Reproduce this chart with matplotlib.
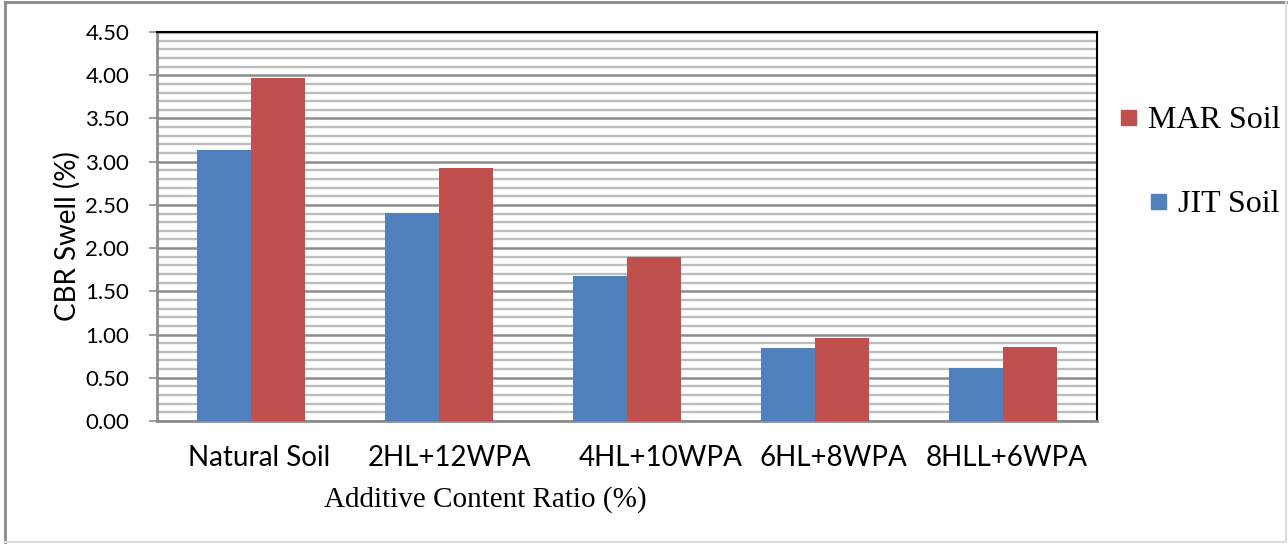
import matplotlib
matplotlib.use('Agg')
import matplotlib.pyplot as plt
import matplotlib.transforms as mtransforms
from matplotlib.patches import Rectangle
from matplotlib.lines import Line2D
from matplotlib.ticker import MultipleLocator, FormatStrFormatter
import numpy as np

# data
categories = ['Natural Soil', '2HL+12WPA', '4HL+10WPA', '6HL+8WPA', '8HLL+6WPA']
jit_soil = [3.13, 2.41, 1.68, 0.84, 0.61]
mar_soil = [3.97, 2.93, 1.90, 0.96, 0.86]

blue = '#4F81BD'
red = '#C0504D'
sans = ['Lato', 'DejaVu Sans']
serif = ['Liberation Serif', 'DejaVu Serif']

fig = plt.figure(figsize=(12.88, 5.44), dpi=100)
ax = fig.add_axes([157/1288, 1-421/544, 940/1288, 389/544])

x = np.arange(len(categories))
w = 0.285
ax.bar(x - w/2, jit_soil, w, color=blue, zorder=3)
ax.bar(x + w/2, mar_soil, w, color=red, zorder=3)

ax.set_xlim(-0.5, len(categories) - 0.5)
ax.set_ylim(0, 4.5)
ax.yaxis.set_major_locator(MultipleLocator(0.5))
ax.yaxis.set_minor_locator(MultipleLocator(0.1))
ax.yaxis.set_major_formatter(FormatStrFormatter('%.2f'))
ax.grid(which='major', axis='y', color='#8c8c8c', linewidth=1.8)
ax.grid(which='minor', axis='y', color='#bdbdbd', linewidth=1.7)
ax.set_axisbelow(True)

ax.tick_params(axis='y', which='major', length=6, width=1.2, color='#8c8c8c',
               pad=14, labelsize=16)
ax.tick_params(axis='y', which='minor', length=0)
ax.tick_params(axis='x', length=0, pad=17, labelsize=20)
ax.set_xticks(x)
ax.set_xticklabels(categories)
for lab in ax.get_xticklabels() + ax.get_yticklabels():
    lab.set_fontfamily(sans)

# the category labels are not evenly centred in the original
label_dx = [8, 11, 34, 18, 4]
for lab, dx in zip(ax.get_xticklabels(), label_dx):
    lab.set_transform(lab.get_transform() +
                      mtransforms.ScaledTranslation(dx/100, 0, fig.dpi_scale_trans))

for side in ['top', 'right']:
    ax.spines[side].set_color('black')
    ax.spines[side].set_linewidth(1.5)
for side in ['left', 'bottom']:
    ax.spines[side].set_color('#8c8c8c')
    ax.spines[side].set_linewidth(2)

fig.text(67/1288, 1-236/544, 'CBR Swell (%)', fontsize=20, family=sans,
         rotation=90, ha='center', va='center')
fig.text(485/1288, 1-500/544, 'Additive Content Ratio (%)', fontsize=21,
         family=serif, ha='center', va='center')

# legend drawn by hand (text is right aligned in the original)
legend_items = [('MAR Soil', red, 1121, 117), ('JIT Soil', blue, 1151, 201)]
for name, col, px, py in legend_items:
    fig.add_artist(Rectangle((px/1288, 1-(py+7.5)/544), 15/1288, 15/544,
                             transform=fig.transFigure, color=col))
    fig.text(1280/1288, 1-(py+3)/544, name, fontsize=23, family=serif,
             ha='right', va='center')

# outer frame of the chart area
fig.add_artist(Line2D([5/1288, 5/1288], [2/544, 1-2/544], color='#8a8a8a', lw=2))
fig.add_artist(Line2D([5/1288, 1286/1288], [1-2/544, 1-2/544], color='#8a8a8a', lw=2))
fig.add_artist(Line2D([5/1288, 1286/1288], [2/544, 2/544], color='#dcdcdc', lw=1.5))
fig.add_artist(Line2D([1286/1288, 1286/1288], [2/544, 1-2/544], color='#dcdcdc', lw=1.5))

fig.savefig('out.png', dpi=100, facecolor='white')
